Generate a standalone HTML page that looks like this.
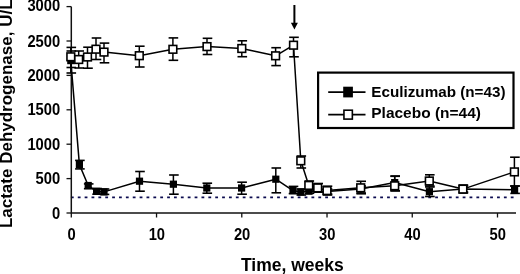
<!DOCTYPE html><html><head><meta charset="utf-8"><style>html,body{margin:0;padding:0;background:#fff;width:520px;height:274px;overflow:hidden}svg{display:block;will-change:transform}text{font-family:"Liberation Sans",sans-serif;font-weight:bold;fill:#000}</style></head><body>
<svg width="520" height="274" viewBox="0 0 520 274">
<line x1="70.9" y1="197.4" x2="514" y2="197.4" stroke="#0c0c50" stroke-width="1.8" stroke-dasharray="2.8 4.073"/>
<line x1="71.3" y1="6.6" x2="71.3" y2="213.5" stroke="#111" stroke-width="1.5"/>
<line x1="71.3" y1="213" x2="516" y2="213" stroke="#111" stroke-width="1.5"/>
<line x1="66.5" y1="213.00" x2="71.3" y2="213.00" stroke="#111" stroke-width="1.3"/>
<text text-anchor="end" x="60.2" y="218.60" font-size="15.8" textLength="8.2" lengthAdjust="spacingAndGlyphs">0</text>
<line x1="66.5" y1="178.60" x2="71.3" y2="178.60" stroke="#111" stroke-width="1.3"/>
<text text-anchor="end" x="60.2" y="184.20" font-size="15.8" textLength="24.6" lengthAdjust="spacingAndGlyphs">500</text>
<line x1="66.5" y1="144.20" x2="71.3" y2="144.20" stroke="#111" stroke-width="1.3"/>
<text text-anchor="end" x="60.2" y="149.80" font-size="15.8" textLength="32.8" lengthAdjust="spacingAndGlyphs">1000</text>
<line x1="66.5" y1="109.80" x2="71.3" y2="109.80" stroke="#111" stroke-width="1.3"/>
<text text-anchor="end" x="60.2" y="115.40" font-size="15.8" textLength="32.8" lengthAdjust="spacingAndGlyphs">1500</text>
<line x1="66.5" y1="75.40" x2="71.3" y2="75.40" stroke="#111" stroke-width="1.3"/>
<text text-anchor="end" x="60.2" y="81.00" font-size="15.8" textLength="32.8" lengthAdjust="spacingAndGlyphs">2000</text>
<line x1="66.5" y1="41.00" x2="71.3" y2="41.00" stroke="#111" stroke-width="1.3"/>
<text text-anchor="end" x="60.2" y="46.60" font-size="15.8" textLength="32.8" lengthAdjust="spacingAndGlyphs">2500</text>
<line x1="66.5" y1="6.60" x2="71.3" y2="6.60" stroke="#111" stroke-width="1.3"/>
<text text-anchor="end" x="60.2" y="11.40" font-size="15.8" textLength="32.8" lengthAdjust="spacingAndGlyphs">3000</text>
<line x1="71.30" y1="213" x2="71.30" y2="217.5" stroke="#111" stroke-width="1.3"/>
<text x="71.60" y="240.4" font-size="15.8" text-anchor="middle" textLength="8.2" lengthAdjust="spacingAndGlyphs">0</text>
<line x1="156.54" y1="213" x2="156.54" y2="217.5" stroke="#111" stroke-width="1.3"/>
<text x="156.84" y="240.4" font-size="15.8" text-anchor="middle" textLength="16.4" lengthAdjust="spacingAndGlyphs">10</text>
<line x1="241.78" y1="213" x2="241.78" y2="217.5" stroke="#111" stroke-width="1.3"/>
<text x="242.08" y="240.4" font-size="15.8" text-anchor="middle" textLength="16.4" lengthAdjust="spacingAndGlyphs">20</text>
<line x1="327.02" y1="213" x2="327.02" y2="217.5" stroke="#111" stroke-width="1.3"/>
<text x="327.32" y="240.4" font-size="15.8" text-anchor="middle" textLength="16.4" lengthAdjust="spacingAndGlyphs">30</text>
<line x1="412.26" y1="213" x2="412.26" y2="217.5" stroke="#111" stroke-width="1.3"/>
<text x="412.56" y="240.4" font-size="15.8" text-anchor="middle" textLength="16.4" lengthAdjust="spacingAndGlyphs">40</text>
<line x1="497.50" y1="213" x2="497.50" y2="217.5" stroke="#111" stroke-width="1.3"/>
<text x="497.80" y="240.4" font-size="15.8" text-anchor="middle" textLength="16.4" lengthAdjust="spacingAndGlyphs">50</text>
<text x="240.9" y="270.9" font-size="17.5">Time, weeks</text>
<text transform="translate(12.4,228.1) rotate(-90)" x="0" y="0" font-size="17">Lactate Dehydrogenase, U/L</text>
<line x1="294.4" y1="5" x2="294.4" y2="24" stroke="#000" stroke-width="2"/>
<path d="M290.9,22.8 L297.9,22.8 L294.4,29.4 Z" fill="#000"/>
<polyline points="70.80,60.60 79.40,164.60 88.20,185.50 96.60,191.40 104.00,191.90 139.50,181.20 173.40,184.20 206.80,188.00 241.60,188.00 275.80,179.20 293.00,190.60 300.80,192.00 309.00,191.20 327.00,191.50 360.70,189.00 394.70,182.60 429.40,191.70 462.90,189.00 514.60,189.70" fill="none" stroke="#000" stroke-width="1.5" stroke-linejoin="round"/>
<line x1="70.80" y1="51.00" x2="70.80" y2="73.00" stroke="#000" stroke-width="1.5"/>
<line x1="66.50" y1="51.00" x2="76.10" y2="51.00" stroke="#000" stroke-width="1.6"/>
<line x1="66.50" y1="73.00" x2="76.10" y2="73.00" stroke="#000" stroke-width="1.6"/>
<line x1="79.40" y1="160.40" x2="79.40" y2="168.90" stroke="#000" stroke-width="1.5"/>
<line x1="75.10" y1="160.40" x2="84.70" y2="160.40" stroke="#000" stroke-width="1.6"/>
<line x1="75.10" y1="168.90" x2="84.70" y2="168.90" stroke="#000" stroke-width="1.6"/>
<line x1="88.20" y1="183.90" x2="88.20" y2="188.70" stroke="#000" stroke-width="1.5"/>
<line x1="83.90" y1="183.90" x2="93.50" y2="183.90" stroke="#000" stroke-width="1.6"/>
<line x1="83.90" y1="188.70" x2="93.50" y2="188.70" stroke="#000" stroke-width="1.6"/>
<line x1="96.60" y1="188.50" x2="96.60" y2="194.20" stroke="#000" stroke-width="1.5"/>
<line x1="92.30" y1="188.50" x2="101.90" y2="188.50" stroke="#000" stroke-width="1.6"/>
<line x1="92.30" y1="194.20" x2="101.90" y2="194.20" stroke="#000" stroke-width="1.6"/>
<line x1="104.00" y1="189.00" x2="104.00" y2="194.40" stroke="#000" stroke-width="1.5"/>
<line x1="99.70" y1="189.00" x2="109.30" y2="189.00" stroke="#000" stroke-width="1.6"/>
<line x1="99.70" y1="194.40" x2="109.30" y2="194.40" stroke="#000" stroke-width="1.6"/>
<line x1="139.50" y1="171.50" x2="139.50" y2="191.20" stroke="#000" stroke-width="1.5"/>
<line x1="135.20" y1="171.50" x2="144.80" y2="171.50" stroke="#000" stroke-width="1.6"/>
<line x1="135.20" y1="191.20" x2="144.80" y2="191.20" stroke="#000" stroke-width="1.6"/>
<line x1="173.40" y1="175.00" x2="173.40" y2="194.20" stroke="#000" stroke-width="1.5"/>
<line x1="169.10" y1="175.00" x2="178.70" y2="175.00" stroke="#000" stroke-width="1.6"/>
<line x1="169.10" y1="194.20" x2="178.70" y2="194.20" stroke="#000" stroke-width="1.6"/>
<line x1="206.80" y1="183.20" x2="206.80" y2="193.20" stroke="#000" stroke-width="1.5"/>
<line x1="202.50" y1="183.20" x2="212.10" y2="183.20" stroke="#000" stroke-width="1.6"/>
<line x1="202.50" y1="193.20" x2="212.10" y2="193.20" stroke="#000" stroke-width="1.6"/>
<line x1="241.60" y1="182.20" x2="241.60" y2="194.20" stroke="#000" stroke-width="1.5"/>
<line x1="237.30" y1="182.20" x2="246.90" y2="182.20" stroke="#000" stroke-width="1.6"/>
<line x1="237.30" y1="194.20" x2="246.90" y2="194.20" stroke="#000" stroke-width="1.6"/>
<line x1="275.80" y1="168.00" x2="275.80" y2="192.80" stroke="#000" stroke-width="1.5"/>
<line x1="271.50" y1="168.00" x2="281.10" y2="168.00" stroke="#000" stroke-width="1.6"/>
<line x1="271.50" y1="192.80" x2="281.10" y2="192.80" stroke="#000" stroke-width="1.6"/>
<line x1="293.00" y1="186.40" x2="293.00" y2="193.60" stroke="#000" stroke-width="1.5"/>
<line x1="288.70" y1="186.40" x2="298.30" y2="186.40" stroke="#000" stroke-width="1.6"/>
<line x1="288.70" y1="193.60" x2="298.30" y2="193.60" stroke="#000" stroke-width="1.6"/>
<line x1="300.80" y1="189.00" x2="300.80" y2="195.00" stroke="#000" stroke-width="1.5"/>
<line x1="296.50" y1="189.00" x2="306.10" y2="189.00" stroke="#000" stroke-width="1.6"/>
<line x1="296.50" y1="195.00" x2="306.10" y2="195.00" stroke="#000" stroke-width="1.6"/>
<line x1="309.00" y1="189.00" x2="309.00" y2="193.30" stroke="#000" stroke-width="1.5"/>
<line x1="304.70" y1="189.00" x2="314.30" y2="189.00" stroke="#000" stroke-width="1.6"/>
<line x1="304.70" y1="193.30" x2="314.30" y2="193.30" stroke="#000" stroke-width="1.6"/>
<line x1="327.00" y1="189.00" x2="327.00" y2="194.00" stroke="#000" stroke-width="1.5"/>
<line x1="322.70" y1="189.00" x2="332.30" y2="189.00" stroke="#000" stroke-width="1.6"/>
<line x1="322.70" y1="194.00" x2="332.30" y2="194.00" stroke="#000" stroke-width="1.6"/>
<line x1="360.70" y1="186.00" x2="360.70" y2="193.00" stroke="#000" stroke-width="1.5"/>
<line x1="356.40" y1="186.00" x2="366.00" y2="186.00" stroke="#000" stroke-width="1.6"/>
<line x1="356.40" y1="193.00" x2="366.00" y2="193.00" stroke="#000" stroke-width="1.6"/>
<line x1="394.70" y1="176.30" x2="394.70" y2="190.80" stroke="#000" stroke-width="1.5"/>
<line x1="390.40" y1="176.30" x2="400.00" y2="176.30" stroke="#000" stroke-width="1.6"/>
<line x1="390.40" y1="190.80" x2="400.00" y2="190.80" stroke="#000" stroke-width="1.6"/>
<line x1="429.40" y1="187.00" x2="429.40" y2="196.50" stroke="#000" stroke-width="1.5"/>
<line x1="425.10" y1="187.00" x2="434.70" y2="187.00" stroke="#000" stroke-width="1.6"/>
<line x1="425.10" y1="196.50" x2="434.70" y2="196.50" stroke="#000" stroke-width="1.6"/>
<line x1="462.90" y1="186.00" x2="462.90" y2="192.00" stroke="#000" stroke-width="1.5"/>
<line x1="458.60" y1="186.00" x2="468.20" y2="186.00" stroke="#000" stroke-width="1.6"/>
<line x1="458.60" y1="192.00" x2="468.20" y2="192.00" stroke="#000" stroke-width="1.6"/>
<line x1="514.60" y1="186.00" x2="514.60" y2="193.40" stroke="#000" stroke-width="1.5"/>
<line x1="510.30" y1="186.00" x2="519.90" y2="186.00" stroke="#000" stroke-width="1.6"/>
<line x1="510.30" y1="193.40" x2="519.90" y2="193.40" stroke="#000" stroke-width="1.6"/>
<rect x="67.20" y="57.00" width="7.2" height="7.2" fill="#000"/>
<rect x="75.80" y="161.00" width="7.2" height="7.2" fill="#000"/>
<rect x="84.60" y="181.90" width="7.2" height="7.2" fill="#000"/>
<rect x="93.00" y="187.80" width="7.2" height="7.2" fill="#000"/>
<rect x="100.40" y="188.30" width="7.2" height="7.2" fill="#000"/>
<rect x="135.90" y="177.60" width="7.2" height="7.2" fill="#000"/>
<rect x="169.80" y="180.60" width="7.2" height="7.2" fill="#000"/>
<rect x="203.20" y="184.40" width="7.2" height="7.2" fill="#000"/>
<rect x="238.00" y="184.40" width="7.2" height="7.2" fill="#000"/>
<rect x="272.20" y="175.60" width="7.2" height="7.2" fill="#000"/>
<rect x="289.40" y="187.00" width="7.2" height="7.2" fill="#000"/>
<rect x="297.20" y="188.40" width="7.2" height="7.2" fill="#000"/>
<rect x="305.40" y="187.60" width="7.2" height="7.2" fill="#000"/>
<rect x="323.40" y="187.90" width="7.2" height="7.2" fill="#000"/>
<rect x="357.10" y="185.40" width="7.2" height="7.2" fill="#000"/>
<rect x="391.10" y="179.00" width="7.2" height="7.2" fill="#000"/>
<rect x="425.80" y="188.10" width="7.2" height="7.2" fill="#000"/>
<rect x="459.30" y="185.40" width="7.2" height="7.2" fill="#000"/>
<rect x="511.00" y="186.10" width="7.2" height="7.2" fill="#000"/>
<polyline points="70.80,56.80 78.70,59.50 87.50,57.00 96.00,49.20 104.00,52.10 139.30,55.70 172.90,49.30 207.00,46.60 241.80,48.50 275.60,55.80 293.50,45.20 300.80,160.80 308.80,185.40 317.70,187.90 327.00,190.60 360.70,187.80 394.70,185.80 429.30,181.00 462.90,189.10 514.40,171.90" fill="none" stroke="#000" stroke-width="1.5" stroke-linejoin="round"/>
<line x1="70.80" y1="47.40" x2="70.80" y2="67.50" stroke="#000" stroke-width="1.5"/>
<line x1="66.50" y1="47.40" x2="76.10" y2="47.40" stroke="#000" stroke-width="1.6"/>
<line x1="66.50" y1="67.50" x2="76.10" y2="67.50" stroke="#000" stroke-width="1.6"/>
<line x1="78.70" y1="51.00" x2="78.70" y2="68.00" stroke="#000" stroke-width="1.5"/>
<line x1="74.40" y1="51.00" x2="84.00" y2="51.00" stroke="#000" stroke-width="1.6"/>
<line x1="74.40" y1="68.00" x2="84.00" y2="68.00" stroke="#000" stroke-width="1.6"/>
<line x1="87.50" y1="47.20" x2="87.50" y2="68.20" stroke="#000" stroke-width="1.5"/>
<line x1="83.20" y1="47.20" x2="92.80" y2="47.20" stroke="#000" stroke-width="1.6"/>
<line x1="83.20" y1="68.20" x2="92.80" y2="68.20" stroke="#000" stroke-width="1.6"/>
<line x1="96.00" y1="38.00" x2="96.00" y2="59.50" stroke="#000" stroke-width="1.5"/>
<line x1="91.70" y1="38.00" x2="101.30" y2="38.00" stroke="#000" stroke-width="1.6"/>
<line x1="91.70" y1="59.50" x2="101.30" y2="59.50" stroke="#000" stroke-width="1.6"/>
<line x1="104.00" y1="43.10" x2="104.00" y2="62.80" stroke="#000" stroke-width="1.5"/>
<line x1="99.70" y1="43.10" x2="109.30" y2="43.10" stroke="#000" stroke-width="1.6"/>
<line x1="99.70" y1="62.80" x2="109.30" y2="62.80" stroke="#000" stroke-width="1.6"/>
<line x1="139.30" y1="46.20" x2="139.30" y2="67.00" stroke="#000" stroke-width="1.5"/>
<line x1="135.00" y1="46.20" x2="144.60" y2="46.20" stroke="#000" stroke-width="1.6"/>
<line x1="135.00" y1="67.00" x2="144.60" y2="67.00" stroke="#000" stroke-width="1.6"/>
<line x1="172.90" y1="37.90" x2="172.90" y2="60.30" stroke="#000" stroke-width="1.5"/>
<line x1="168.60" y1="37.90" x2="178.20" y2="37.90" stroke="#000" stroke-width="1.6"/>
<line x1="168.60" y1="60.30" x2="178.20" y2="60.30" stroke="#000" stroke-width="1.6"/>
<line x1="207.00" y1="38.30" x2="207.00" y2="54.50" stroke="#000" stroke-width="1.5"/>
<line x1="202.70" y1="38.30" x2="212.30" y2="38.30" stroke="#000" stroke-width="1.6"/>
<line x1="202.70" y1="54.50" x2="212.30" y2="54.50" stroke="#000" stroke-width="1.6"/>
<line x1="241.80" y1="40.80" x2="241.80" y2="56.70" stroke="#000" stroke-width="1.5"/>
<line x1="237.50" y1="40.80" x2="247.10" y2="40.80" stroke="#000" stroke-width="1.6"/>
<line x1="237.50" y1="56.70" x2="247.10" y2="56.70" stroke="#000" stroke-width="1.6"/>
<line x1="275.60" y1="47.70" x2="275.60" y2="65.60" stroke="#000" stroke-width="1.5"/>
<line x1="271.30" y1="47.70" x2="280.90" y2="47.70" stroke="#000" stroke-width="1.6"/>
<line x1="271.30" y1="65.60" x2="280.90" y2="65.60" stroke="#000" stroke-width="1.6"/>
<line x1="293.50" y1="37.30" x2="293.50" y2="56.80" stroke="#000" stroke-width="1.5"/>
<line x1="289.20" y1="37.30" x2="298.80" y2="37.30" stroke="#000" stroke-width="1.6"/>
<line x1="289.20" y1="56.80" x2="298.80" y2="56.80" stroke="#000" stroke-width="1.6"/>
<line x1="300.80" y1="156.00" x2="300.80" y2="168.00" stroke="#000" stroke-width="1.5"/>
<line x1="296.50" y1="156.00" x2="306.10" y2="156.00" stroke="#000" stroke-width="1.6"/>
<line x1="296.50" y1="168.00" x2="306.10" y2="168.00" stroke="#000" stroke-width="1.6"/>
<line x1="308.80" y1="181.00" x2="308.80" y2="190.00" stroke="#000" stroke-width="1.5"/>
<line x1="304.50" y1="181.00" x2="314.10" y2="181.00" stroke="#000" stroke-width="1.6"/>
<line x1="304.50" y1="190.00" x2="314.10" y2="190.00" stroke="#000" stroke-width="1.6"/>
<line x1="317.70" y1="183.50" x2="317.70" y2="192.20" stroke="#000" stroke-width="1.5"/>
<line x1="313.40" y1="183.50" x2="323.00" y2="183.50" stroke="#000" stroke-width="1.6"/>
<line x1="313.40" y1="192.20" x2="323.00" y2="192.20" stroke="#000" stroke-width="1.6"/>
<line x1="327.00" y1="186.20" x2="327.00" y2="195.00" stroke="#000" stroke-width="1.5"/>
<line x1="322.70" y1="186.20" x2="332.30" y2="186.20" stroke="#000" stroke-width="1.6"/>
<line x1="322.70" y1="195.00" x2="332.30" y2="195.00" stroke="#000" stroke-width="1.6"/>
<line x1="360.70" y1="181.30" x2="360.70" y2="193.80" stroke="#000" stroke-width="1.5"/>
<line x1="356.40" y1="181.30" x2="366.00" y2="181.30" stroke="#000" stroke-width="1.6"/>
<line x1="356.40" y1="193.80" x2="366.00" y2="193.80" stroke="#000" stroke-width="1.6"/>
<line x1="394.70" y1="176.00" x2="394.70" y2="190.80" stroke="#000" stroke-width="1.5"/>
<line x1="390.40" y1="176.00" x2="400.00" y2="176.00" stroke="#000" stroke-width="1.6"/>
<line x1="390.40" y1="190.80" x2="400.00" y2="190.80" stroke="#000" stroke-width="1.6"/>
<line x1="429.30" y1="174.80" x2="429.30" y2="186.00" stroke="#000" stroke-width="1.5"/>
<line x1="425.00" y1="174.80" x2="434.60" y2="174.80" stroke="#000" stroke-width="1.6"/>
<line x1="425.00" y1="186.00" x2="434.60" y2="186.00" stroke="#000" stroke-width="1.6"/>
<line x1="462.90" y1="185.00" x2="462.90" y2="193.00" stroke="#000" stroke-width="1.5"/>
<line x1="458.60" y1="185.00" x2="468.20" y2="185.00" stroke="#000" stroke-width="1.6"/>
<line x1="458.60" y1="193.00" x2="468.20" y2="193.00" stroke="#000" stroke-width="1.6"/>
<line x1="514.40" y1="157.20" x2="514.40" y2="186.00" stroke="#000" stroke-width="1.5"/>
<line x1="510.10" y1="157.20" x2="519.70" y2="157.20" stroke="#000" stroke-width="1.6"/>
<line x1="510.10" y1="186.00" x2="519.70" y2="186.00" stroke="#000" stroke-width="1.6"/>
<rect x="66.95" y="52.95" width="7.70" height="7.70" fill="#fff" stroke="#000" stroke-width="1.6"/>
<rect x="74.85" y="55.65" width="7.70" height="7.70" fill="#fff" stroke="#000" stroke-width="1.6"/>
<rect x="83.65" y="53.15" width="7.70" height="7.70" fill="#fff" stroke="#000" stroke-width="1.6"/>
<rect x="92.15" y="45.35" width="7.70" height="7.70" fill="#fff" stroke="#000" stroke-width="1.6"/>
<rect x="100.15" y="48.25" width="7.70" height="7.70" fill="#fff" stroke="#000" stroke-width="1.6"/>
<rect x="135.45" y="51.85" width="7.70" height="7.70" fill="#fff" stroke="#000" stroke-width="1.6"/>
<rect x="169.05" y="45.45" width="7.70" height="7.70" fill="#fff" stroke="#000" stroke-width="1.6"/>
<rect x="203.15" y="42.75" width="7.70" height="7.70" fill="#fff" stroke="#000" stroke-width="1.6"/>
<rect x="237.95" y="44.65" width="7.70" height="7.70" fill="#fff" stroke="#000" stroke-width="1.6"/>
<rect x="271.75" y="51.95" width="7.70" height="7.70" fill="#fff" stroke="#000" stroke-width="1.6"/>
<rect x="289.65" y="41.35" width="7.70" height="7.70" fill="#fff" stroke="#000" stroke-width="1.6"/>
<rect x="296.95" y="156.95" width="7.70" height="7.70" fill="#fff" stroke="#000" stroke-width="1.6"/>
<rect x="304.95" y="181.55" width="7.70" height="7.70" fill="#fff" stroke="#000" stroke-width="1.6"/>
<rect x="313.85" y="184.05" width="7.70" height="7.70" fill="#fff" stroke="#000" stroke-width="1.6"/>
<rect x="323.15" y="186.75" width="7.70" height="7.70" fill="#fff" stroke="#000" stroke-width="1.6"/>
<rect x="356.85" y="183.95" width="7.70" height="7.70" fill="#fff" stroke="#000" stroke-width="1.6"/>
<rect x="390.85" y="181.95" width="7.70" height="7.70" fill="#fff" stroke="#000" stroke-width="1.6"/>
<rect x="425.45" y="177.15" width="7.70" height="7.70" fill="#fff" stroke="#000" stroke-width="1.6"/>
<rect x="459.05" y="185.25" width="7.70" height="7.70" fill="#fff" stroke="#000" stroke-width="1.6"/>
<rect x="510.55" y="168.05" width="7.70" height="7.70" fill="#fff" stroke="#000" stroke-width="1.6"/>
<rect x="318.1" y="72.6" width="195.4" height="55.4" fill="#fff" stroke="#000" stroke-width="2.2"/>
<line x1="328.2" y1="92.2" x2="365.5" y2="92.2" stroke="#000" stroke-width="1.8"/>
<rect x="343.2" y="86.7" width="9.7" height="10.7" fill="#000"/>
<line x1="328.2" y1="114.6" x2="365.5" y2="114.6" stroke="#000" stroke-width="1.8"/>
<rect x="343.95" y="110.2" width="8.4" height="8.9" fill="#fff" stroke="#000" stroke-width="1.6"/>
<text x="371.3" y="96.5" font-size="15.2" textLength="134.2" lengthAdjust="spacingAndGlyphs">Eculizumab (n=43)</text>
<text x="371.3" y="117.6" font-size="15.2" textLength="109.6" lengthAdjust="spacingAndGlyphs">Placebo (n=44)</text>
</svg></body></html>
